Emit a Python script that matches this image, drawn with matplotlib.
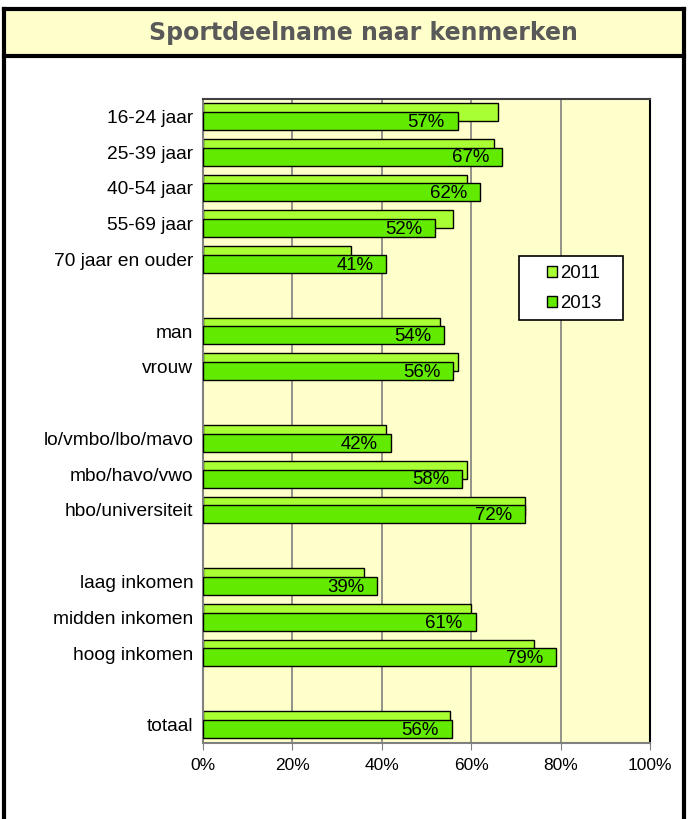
import numpy as np
import matplotlib
matplotlib.use("Agg")
import matplotlib.pyplot as plt
from matplotlib.patches import Rectangle, Patch
from matplotlib.lines import Line2D

# categorieën (lege strings = witregel tussen groepen)
categories = ["16-24 jaar", "25-39 jaar", "40-54 jaar", "55-69 jaar", "70 jaar en ouder", "",
              "man", "vrouw", "",
              "lo/vmbo/lbo/mavo", "mbo/havo/vwo", "hbo/universiteit", "",
              "laag inkomen", "midden inkomen", "hoog inkomen", "",
              "totaal"]
vals_2011 = [66, 65, 59, 56, 33, None, 53, 57, None, 41, 59, 72, None, 36, 60, 74, None, 55.3]
vals_2013 = [57, 67, 62, 52, 41, None, 54, 56, None, 42, 58, 72, None, 39, 61, 79, None, 55.6]
series_names = ["2011", "2013"]
xticks = [0, 20, 40, 60, 80, 100]

c2011 = "#A8FF33"
c2013 = "#62EA00"
bg = "#FFFFCC"

W, H = 690, 819
fig = plt.figure(figsize=(W / 100, H / 100), dpi=100)
fig.patch.set_facecolor("white")

def fx(px):
    return px / W

def fy(py):
    return 1 - py / H

# titelbalk en kader
fig.add_artist(Rectangle((fx(4), fy(56)), fx(680), 47 / H, transform=fig.transFigure,
                         facecolor=bg, edgecolor="none", zorder=0))
for xs, ys in [([4, 4], [9, H]), ([684, 684], [9, H]), ([4, 684], [9, 9]), ([4, 684], [56, 56])]:
    fig.add_artist(Line2D([fx(x) for x in xs], [fy(y) for y in ys], transform=fig.transFigure,
                          color="black", lw=3, solid_capstyle="projecting"))
fig.text(fx(363), fy(33), "Sportdeelname naar kenmerken", ha="center", va="center",
         fontsize=17, fontweight="bold", color="#595959", family="DejaVu Sans")

# grafiek
ax = fig.add_axes([fx(203), fy(742.5), fx(650 - 203), (742.5 - 98.5) / H])
ax.set_facecolor(bg)
n = len(categories)
y = np.arange(n)
h = 0.503
off = 0.123
for i in range(n):
    if vals_2011[i] is not None:
        ax.barh(y[i] - off, vals_2011[i], height=h, color=c2011, edgecolor="black", lw=1, zorder=2)
for i in range(n):
    if vals_2013[i] is not None:
        ax.barh(y[i] + off, vals_2013[i], height=h, color=c2013, edgecolor="black", lw=1, zorder=3)
        ax.text(vals_2013[i] - 2.9, y[i] + off + 0.04, f"{vals_2013[i]:.0f}%", ha="right", va="center",
                fontsize=13.4, family="Liberation Sans", zorder=4)

ax.set_xlim(0, 100)
ax.set_ylim(n - 0.5, -0.5)
ax.set_xticks(xticks)
ax.set_xticklabels([f"{t}%" for t in xticks], fontsize=12.5, family="Liberation Sans")
ax.set_yticks(y)
ax.set_yticklabels(categories, fontsize=13.8, family="Liberation Sans")
ax.tick_params(axis="y", length=0, pad=7)
ax.tick_params(axis="x", length=5, color="#808080", pad=6)
ax.grid(axis="x", color="#808080", lw=1.2, zorder=1)
ax.set_axisbelow(True)
ax.spines["left"].set_color("#808080")
ax.spines["bottom"].set_color("#808080")
ax.spines["left"].set_linewidth(1.5)
ax.spines["bottom"].set_linewidth(1.5)
ax.spines["top"].set_color("#404040")
ax.spines["right"].set_color("black")
ax.spines["top"].set_linewidth(1.5)
ax.spines["right"].set_linewidth(1.5)

# legenda: kader apart getekend
fig.add_artist(Rectangle((fx(519), fy(320)), fx(104), 64 / H, transform=fig.transFigure,
                         facecolor="white", edgecolor="black", lw=1.2, zorder=5))
handles = [Patch(facecolor=c2011, edgecolor="black", label=series_names[0]),
           Patch(facecolor=c2013, edgecolor="black", label=series_names[1])]
leg = fig.legend(handles=handles, loc="upper left", bbox_to_anchor=(fx(547), fy(265)),
                 prop={"family": "Liberation Sans", "size": 13.4}, frameon=False,
                 handlelength=0.55, handleheight=0.55, handletextpad=0.15, borderpad=0,
                 labelspacing=0.72, borderaxespad=0)
leg.set_zorder(6)

fig.savefig("out.png", dpi=100)
